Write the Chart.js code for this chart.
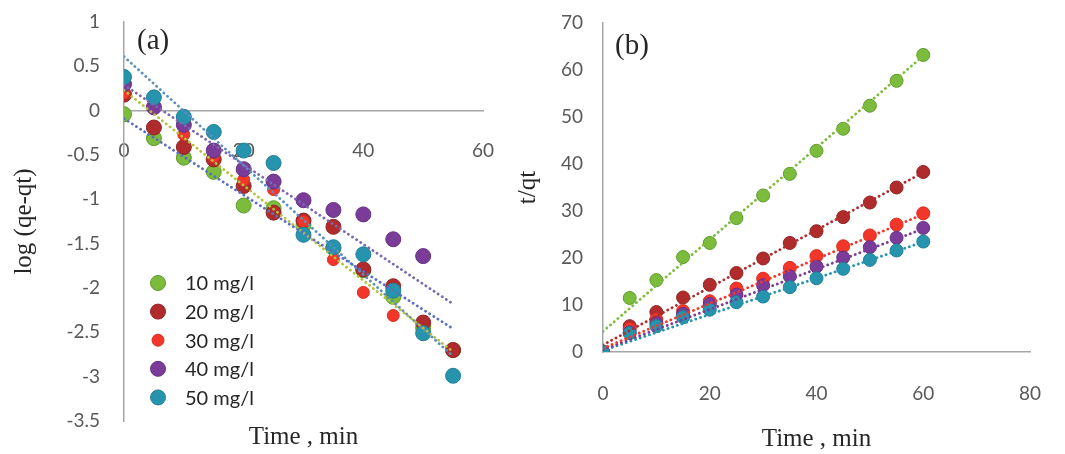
<!DOCTYPE html>
<html><head><meta charset="utf-8">
<script src="https://cdn.jsdelivr.net/npm/chart.js@4.4.1/dist/chart.umd.min.js"></script>
<style>
html,body{margin:0;padding:0;background:#fff;}
#wrap{position:relative;width:1065px;height:454px;overflow:hidden;background:#fff;}
#a{position:absolute;left:0;top:0;}
#b{position:absolute;left:505px;top:0;}
</style></head><body>
<div id="wrap"><canvas id="a" width="505" height="454"></canvas><canvas id="b" width="560" height="454"></canvas></div>
<script>
// ---------- data ----------
const seriesLabels = ['10 mg/l', '20 mg/l', '30 mg/l', '40 mg/l', '50 mg/l'];

// panel (a): log(qe-qt) vs time
const timeA = [0, 5, 10, 15, 20, 25, 30, 35, 40, 45, 50, 55];
const logA10 = [-0.04, -0.31, -0.53, -0.69, -1.07, -1.10, -1.29, -1.55, -1.80, -2.10, -2.45, -2.70];
const logA20 = [0.18, -0.19, -0.41, -0.55, -0.85, -1.15, -1.24, -1.31, -1.79, -1.98, -2.39, -2.70];
const logA30 = [0.20, 0.02, -0.27, -0.52, -0.78, -0.89, -1.25, -1.68, -2.05, -2.31, null, null];
const logA40 = [0.30, 0.04, -0.16, -0.45, -0.66, -0.80, -1.01, -1.12, -1.17, -1.45, -1.64, null];
const logA50 = [0.38, 0.15, -0.07, -0.24, -0.45, -0.59, -1.40, -1.54, -1.62, -2.03, -2.51, -2.99];
// trend lines (a): value at t=0 and at t=55
const trendTimeA = [0, 55];
const trendA10 = [-0.09, -2.46];
const trendA20 = [0.23, -2.72];
const trendA40 = [0.29, -2.18];
const trendA50 = [0.61, -2.77];

// panel (b): t/qt vs time
const timeB = [0, 5, 10, 15, 20, 25, 30, 35, 40, 45, 50, 55, 60];
const tqB10 = [0, 11.5, 15.3, 20.2, 23.2, 28.5, 33.3, 37.9, 42.8, 47.5, 52.4, 57.7, 63.2];
const tqB20 = [0, 5.5, 8.5, 11.6, 14.3, 16.8, 19.9, 23.2, 25.7, 28.7, 31.8, 35.0, 38.3];
const tqB30 = [0, 4.9, 6.9, 8.7, 10.8, 13.5, 15.6, 17.9, 20.4, 22.5, 24.8, 27.1, 29.5];
const tqB40 = [0, 4.2, 6.2, 8.1, 10.2, 12.2, 14.2, 16.1, 18.2, 20.1, 22.3, 24.3, 26.4];
const tqB50 = [0, 4.0, 5.5, 7.4, 9.0, 10.6, 11.8, 13.8, 15.7, 17.7, 19.6, 21.6, 23.5];
// trend lines (b): value at t=0 and at t=60
const trendTimeB = [0, 60];
const trendB10 = [4.4, 63.0];
const trendB20 = [1.5, 38.2];
const trendB30 = [0.8, 29.3];
const trendB40 = [0.5, 26.2];
const trendB50 = [0.3, 23.4];

// tick labels
const xTicksA = [0, 20, 40, 60];
const yTicksA = [1, 0.5, 0, -0.5, -1, -1.5, -2, -2.5, -3, -3.5];
const xTicksB = [0, 20, 40, 60, 80];
const yTicksB = [0, 10, 20, 30, 40, 50, 60, 70];

// ---------- styles ----------
const fillColors = ['#7cbc3c', '#b02c2c', '#f2362a', '#7a3c98', '#2794ae'];
const edgeColors = ['#5e9a2c', '#922222', '#e02a20', '#653183', '#1f7f97'];
const radiiA = [7.5, 7.5, 6, 7.5, 7.5];
const trendColorsA = ['#5b6fc2', '#b3c23c', '#7c68b2', '#5b8fbf'];
const axisColor = '#a6a6a6';
const tickFont = {family: 'Lato', size: 19};
const titleFont = {family: 'Liberation Serif', size: 25, weight: 'normal'};

const pts = (xs, ys) => xs.map((x, i) => ({x: x, y: ys[i]})).filter(p => p.y !== null);
const fixedTicks = arr => (s) => { s.ticks = arr.map(v => ({value: v})); };
const fitX = h => (s) => { s.height = h; s.paddingLeft = 0; s.paddingRight = 0; };
const fitY = w => (s) => { s.width = w; s.paddingTop = 0; s.paddingBottom = 0; };

function scatterSet(label, xs, ys, i, r, order) {
  return {type: 'scatter', label: label, data: pts(xs, ys), backgroundColor: fillColors[i],
    borderColor: edgeColors[i], borderWidth: 1, pointRadius: r, pointHoverRadius: r, order: order};
}
function trendSet(xs, ys, color) {
  return {type: 'line', label: '', data: pts(xs, ys), borderColor: color, borderWidth: 2.8,
    borderDash: [0.1, 4.8], borderCapStyle: 'round', pointRadius: 0, fill: false, order: 0, isTrend: true};
}

const legendPlugin = {
  id: 'inLegend',
  afterDraw(chart) {
    const ctx = chart.ctx;
    ctx.save();
    const sets = chart.data.datasets.filter(d => !d.isTrend);
    sets.forEach((d, i) => {
      const y = 283 + i * 28.6;
      ctx.beginPath();
      ctx.arc(158, y, d.pointRadius, 0, Math.PI * 2);
      ctx.fillStyle = d.backgroundColor; ctx.fill();
      ctx.lineWidth = 1; ctx.strokeStyle = d.borderColor; ctx.stroke();
      ctx.fillStyle = '#262626';
      ctx.font = '20px Lato';
      ctx.textBaseline = 'middle'; ctx.textAlign = 'left';
      ctx.fillText(d.label, 185, y + 1);
    });
    ctx.restore();
  }
};
function panelLabel(text, x, y) {
  return {id: 'panel' + text, afterDraw(chart) {
    const ctx = chart.ctx; ctx.save();
    ctx.font = '29px "Liberation Serif"'; ctx.fillStyle = '#262626';
    ctx.textBaseline = 'middle'; ctx.textAlign = 'left';
    ctx.fillText(text, x, y); ctx.restore();
  }};
}

// ---------- chart (a) ----------
new Chart(document.getElementById('a'), {
  type: 'scatter',
  data: {datasets: [
    scatterSet(seriesLabels[0], timeA, logA10, 0, radiiA[0], 5),
    scatterSet(seriesLabels[1], timeA, logA20, 1, radiiA[1], 4),
    scatterSet(seriesLabels[2], timeA, logA30, 2, radiiA[2], 3),
    scatterSet(seriesLabels[3], timeA, logA40, 3, radiiA[3], 2),
    scatterSet(seriesLabels[4], timeA, logA50, 4, radiiA[4], 1),
    trendSet(trendTimeA, trendA10, trendColorsA[0]),
    trendSet(trendTimeA, trendA20, trendColorsA[1]),
    trendSet(trendTimeA, trendA40, trendColorsA[2]),
    trendSet(trendTimeA, trendA50, trendColorsA[3])
  ]},
  options: {
    responsive: false, animation: false, events: [],
    layout: {padding: {left: 9, right: 22, top: 22, bottom: 0}},
    plugins: {
      legend: {display: false}, tooltip: {enabled: false},
      title: {display: true, text: 'Time , min', position: 'bottom', fullSize: false,
        font: titleFont, color: '#262626', padding: {top: 1, bottom: 2}}
    },
    scales: {
      x: {type: 'linear', min: 0, max: 60, position: {y: 0},
        afterBuildTicks: fixedTicks(xTicksA), afterFit: fitX(0),
        grid: {display: false, drawTicks: false},
        border: {display: true, color: axisColor, width: 1.5},
        ticks: {padding: 29, font: tickFont, color: '#595959', callback: v => String(v), maxRotation: 0}},
      y: {type: 'linear', min: -3.5, max: 1,
        afterBuildTicks: fixedTicks(yTicksA), afterFit: fitY(115),
        grid: {display: false, drawTicks: false},
        border: {display: true, color: axisColor, width: 1.5},
        ticks: {padding: 24, font: tickFont, color: '#595959', callback: v => String(v)},
        title: {display: true, text: 'log (qe-qt)', font: titleFont, color: '#262626', padding: 0}}
    }
  },
  plugins: [legendPlugin, panelLabel('(a)', 137, 41)]
});

// ---------- chart (b) ----------
new Chart(document.getElementById('b'), {
  type: 'scatter',
  data: {datasets: [
    scatterSet(seriesLabels[0], timeB, tqB10, 0, 6.5, 5),
    scatterSet(seriesLabels[1], timeB, tqB20, 1, 6.5, 4),
    scatterSet(seriesLabels[2], timeB, tqB30, 2, 6.5, 3),
    scatterSet(seriesLabels[3], timeB, tqB40, 3, 6.5, 2),
    scatterSet(seriesLabels[4], timeB, tqB50, 4, 6.5, 1),
    trendSet(trendTimeB, trendB10, fillColors[0]),
    trendSet(trendTimeB, trendB20, fillColors[1]),
    trendSet(trendTimeB, trendB30, fillColors[2]),
    trendSet(trendTimeB, trendB40, fillColors[3]),
    trendSet(trendTimeB, trendB50, fillColors[4])
  ]},
  options: {
    responsive: false, animation: false, events: [],
    layout: {padding: {left: 8, right: 35, top: 23, bottom: 0}},
    plugins: {legend: {display: false}, tooltip: {enabled: false}},
    scales: {
      x: {type: 'linear', min: 0, max: 80, position: 'bottom',
        afterBuildTicks: fixedTicks(xTicksB), afterFit: fitX(102),
        grid: {display: false, drawTicks: false},
        border: {display: true, color: axisColor, width: 1.5},
        ticks: {padding: 30, font: tickFont, color: '#595959', callback: v => String(v), maxRotation: 0},
        title: {display: true, text: 'Time , min', font: titleFont, color: '#262626', padding: {top: 0, bottom: 0}}},
      y: {type: 'linear', min: 0, max: 70,
        afterBuildTicks: fixedTicks(yTicksB), afterFit: fitY(90),
        grid: {display: false, drawTicks: false},
        border: {display: true, color: axisColor, width: 1.5},
        ticks: {padding: 20, font: tickFont, color: '#595959', callback: v => String(v)},
        title: {display: true, text: 't/qt', font: titleFont, color: '#262626', padding: 0}}
    }
  },
  plugins: [panelLabel('(b)', 110, 46)]
});
</script>
</body></html>
